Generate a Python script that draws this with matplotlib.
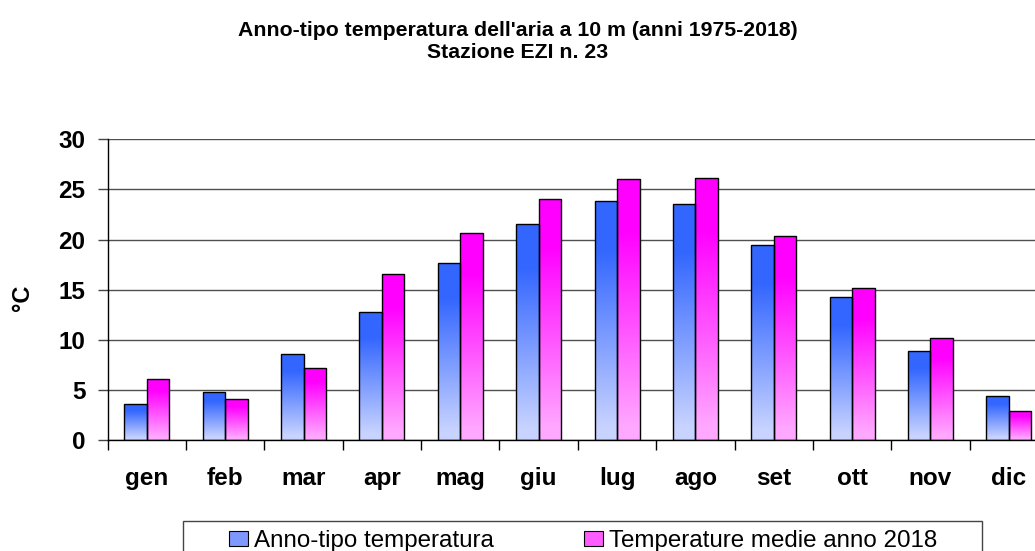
import matplotlib
matplotlib.use("Agg")
import matplotlib.pyplot as plt
import numpy as np
from matplotlib.patches import Patch, Rectangle

plt.rcParams['font.family'] = ['Liberation Sans', 'DejaVu Sans']

mesi = ['gen', 'feb', 'mar', 'apr', 'mag', 'giu', 'lug', 'ago', 'set', 'ott', 'nov', 'dic']
anno_tipo = [3.6, 4.8, 8.6, 12.8, 17.7, 21.5, 23.8, 23.5, 19.5, 14.3, 8.9, 4.4]
anno_2018 = [6.1, 4.1, 7.2, 16.6, 20.7, 24.0, 26.0, 26.1, 20.4, 15.2, 10.2, 2.9]
y_ticks = [0, 5, 10, 15, 20, 25, 30]

W, H = 1035, 551
fig = plt.figure(figsize=(W / 100, H / 100), dpi=100)
ax = fig.add_axes([107.7 / W, 1 - 440 / H, (1048 - 107.7) / W, (440 - 139.3) / H])

x = np.arange(len(mesi))
w = 0.287
b1 = ax.bar(x - w / 2, anno_tipo, w, facecolor='none', edgecolor='black', lw=1, zorder=3)
b2 = ax.bar(x + w / 2, anno_2018, w, facecolor='none', edgecolor='black', lw=1, zorder=3)


def gradiente(bars, top, bottom):
    top = np.array(top) / 255.0
    bottom = np.array(bottom) / 255.0
    t = np.linspace(0, 1, 200)
    f = np.clip((t - 0.05) / 0.75, 0, 1)[:, None]
    img = (bottom + (top - bottom) * f)[:, None, :]
    for p in bars:
        x0, wd, h = p.get_x(), p.get_width(), p.get_height()
        im = ax.imshow(img, extent=(x0, x0 + wd, 0, h), origin='lower',
                       aspect='auto', zorder=2.5, interpolation='bilinear')
        im.set_clip_path(p)


gradiente(b1, (51, 102, 255), (200, 211, 255))
gradiente(b2, (255, 0, 255), (255, 168, 255))

ax.set_xlim(-0.5, len(mesi) - 0.5)
ax.set_ylim(0, 30)
ax.set_yticks(y_ticks)
ax.set_yticklabels([str(v) for v in y_ticks], fontsize=17.5, fontweight='bold')
ax.set_xticks(x)
ax.set_xticklabels(mesi, fontsize=17.5, fontweight='bold')
ax.set_xticks(np.arange(len(mesi)) - 0.5, minor=True)
ax.tick_params(axis='x', which='major', length=0, pad=19.5)
ax.tick_params(axis='x', which='minor', length=7, width=1, direction='out')
ax.tick_params(axis='y', length=7, width=1, color='#444444', pad=9)
ax.yaxis.grid(True, color='#505050', lw=1)
ax.set_axisbelow(True)
for s in ['top', 'right']:
    ax.spines[s].set_visible(False)
ax.spines['left'].set_linewidth(1)
ax.spines['bottom'].set_linewidth(1)

fig.text(22 / W, 1 - 297.5 / H, '°C', rotation=90, ha='center', va='center',
         fontsize=17, fontweight='bold')

fig.text(0.5, 1 - 35.7 / H, "Anno-tipo temperatura dell'aria a 10 m (anni 1975-2018)",
         ha='center', va='baseline', fontsize=15.3, fontweight='bold')
fig.text(0.5, 1 - 58.3 / H, "Stazione EZI n. 23",
         ha='center', va='baseline', fontsize=15.3, fontweight='bold')

fig.patches.append(Rectangle((183 / W, -0.1), (982 - 183) / W, 0.1 + 1 - 520.7 / H,
                             transform=fig.transFigure, facecolor='none',
                             edgecolor='#444444', lw=1))
handles = [Patch(facecolor='#7d98ff', edgecolor='black', lw=0.8),
           Patch(facecolor='#ff5cff', edgecolor='black', lw=0.8)]
fig.legend(handles, ['Anno-tipo temperatura', 'Temperature medie anno 2018'],
           loc='center left', bbox_to_anchor=(229 / W, 1 - 541 / H), ncol=2,
           frameon=False, fontsize=17.4, handlelength=0.78, handleheight=0.58,
           handletextpad=0.25, columnspacing=3.75, borderpad=0, borderaxespad=0)

fig.savefig('out.png', dpi=100)
